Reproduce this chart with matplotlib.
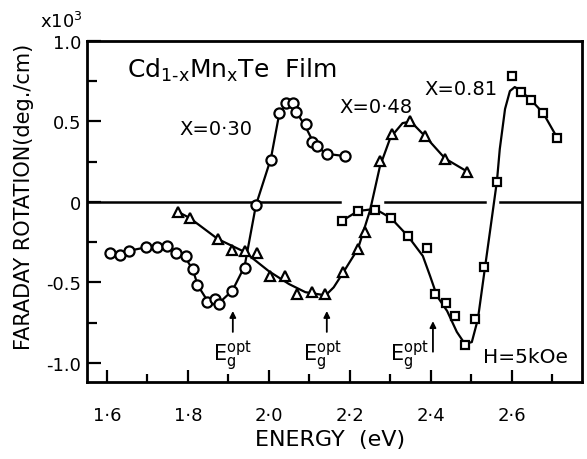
import matplotlib

matplotlib.use("Agg")

import matplotlib.pyplot as plt


# Energy (eV) and Faraday rotation (x10^3 deg/cm)

# X = 0.30, circles
circle_energy = [
    1.607, 1.632, 1.654, 1.696, 1.723, 1.748, 1.770, 1.795, 1.812, 1.822,
    1.847, 1.867, 1.877, 1.909, 1.941, 1.968, 2.005, 2.025, 2.042, 2.059,
    2.067, 2.091, 2.106, 2.119, 2.143, 2.188,
]
circle_rotation = [
    -0.317, -0.329, -0.304, -0.280, -0.280, -0.273, -0.317, -0.335, -0.416, -0.516,
    -0.621, -0.602, -0.634, -0.553, -0.410, -0.019, 0.261, 0.553, 0.615, 0.615,
    0.559, 0.484, 0.373, 0.348, 0.298, 0.286,
]
circle_curve_energy = [
    1.607, 1.632, 1.660, 1.700, 1.740, 1.770, 1.795, 1.812, 1.825, 1.845,
    1.865, 1.880, 1.910, 1.940, 1.968, 2.005, 2.025, 2.040, 2.050, 2.060,
    2.075, 2.090, 2.110, 2.140, 2.188,
]
circle_curve_rotation = [
    -0.32, -0.32, -0.30, -0.28, -0.28, -0.31, -0.35, -0.42, -0.52, -0.60,
    -0.63, -0.62, -0.55, -0.40, -0.02, 0.27, 0.54, 0.60, 0.615, 0.60,
    0.53, 0.47, 0.37, 0.30, 0.285,
]

# X = 0.48, triangles
triangle_energy = [
    1.775, 1.805, 1.874, 1.909, 1.941, 1.970, 2.002, 2.040, 2.069, 2.106,
    2.138, 2.183, 2.220, 2.237, 2.274, 2.304, 2.348, 2.385, 2.435, 2.489,
]
triangle_rotation = [
    -0.062, -0.099, -0.230, -0.298, -0.304, -0.317, -0.460, -0.460, -0.571, -0.559,
    -0.571, -0.435, -0.292, -0.186, 0.255, 0.422, 0.503, 0.410, 0.267, 0.186,
]
triangle_curve_energy = [
    1.775, 1.805, 1.874, 1.940, 2.000, 2.050, 2.090, 2.140, 2.160, 2.183,
    2.220, 2.250, 2.274, 2.300, 2.330, 2.350, 2.385, 2.435, 2.489,
]
triangle_curve_rotation = [
    -0.06, -0.10, -0.23, -0.31, -0.43, -0.51, -0.56, -0.58, -0.53, -0.44,
    -0.29, -0.05, 0.22, 0.40, 0.49, 0.50, 0.41, 0.27, 0.19,
]

# X = 0.81, squares
square_energy = [
    2.180, 2.220, 2.262, 2.301, 2.343, 2.390, 2.410, 2.437, 2.459, 2.484,
    2.509, 2.531, 2.563, 2.600, 2.622, 2.647, 2.677, 2.712,
]
square_rotation = [
    -0.118, -0.056, -0.050, -0.099, -0.211, -0.286, -0.571, -0.627, -0.708, -0.888,
    -0.727, -0.404, 0.124, 0.783, 0.683, 0.634, 0.553, 0.398,
]
square_curve_energy = [
    2.180, 2.220, 2.262, 2.301, 2.343, 2.380, 2.398, 2.415, 2.440, 2.464,
    2.484, 2.501, 2.516, 2.533, 2.546, 2.563, 2.570, 2.583, 2.595, 2.607,
    2.622, 2.647, 2.677, 2.712,
]
square_curve_rotation = [
    -0.118, -0.056, -0.043, -0.099, -0.211, -0.335, -0.460, -0.584, -0.677, -0.807,
    -0.882, -0.870, -0.727, -0.416, -0.180, 0.130, 0.329, 0.578, 0.689, 0.714,
    0.689, 0.634, 0.553, 0.398,
]

# optical gap markers
gap_energy = [1.911, 2.143, 2.405]

x_ticks = [1.6, 1.8, 2.0, 2.2, 2.4, 2.6]
x_tick_labels = ["1·6", "1·8", "2·0", "2·2", "2·4", "2·6"]
y_ticks = [-1.0, -0.5, 0.0, 0.5, 1.0]
y_tick_labels = ["-1.0", "-0.5", "0", "0.5", "1.0"]

# pieces of the broken zero line
zero_segments = [(1.54, 2.175), (2.286, 2.533), (2.570, 2.78)]


def draw_series(axis, energy, rotation, curve_energy, curve_rotation, marker, size):
    axis.plot(curve_energy, curve_rotation, color="black", linewidth=1.6, zorder=3)
    axis.plot(
        energy,
        rotation,
        linestyle="none",
        marker=marker,
        markersize=size,
        markerfacecolor="white",
        markeredgecolor="black",
        markeredgewidth=1.6,
        zorder=4,
    )


def main() -> None:
    plt.rcParams["font.family"] = ["DejaVu Sans"]
    plt.rcParams["mathtext.default"] = "regular"

    figure = plt.figure(figsize=(5.87, 4.60), dpi=100)
    axis = figure.add_axes([0.1482, 0.1674, 0.8433, 0.7413])

    for start, stop in zero_segments:
        axis.plot([start, stop], [0, 0], color="black", linewidth=1.8, zorder=2)

    draw_series(axis, circle_energy, circle_rotation,
                circle_curve_energy, circle_curve_rotation, "o", 7.3)
    draw_series(axis, triangle_energy, triangle_rotation,
                triangle_curve_energy, triangle_curve_rotation, "^", 7.8)
    draw_series(axis, square_energy, square_rotation,
                square_curve_energy, square_curve_rotation, "s", 6.3)

    # --------------------------------------------------
    # Labels inside the frame
    # --------------------------------------------------

    axis.text(1.649, 0.776, r"$Cd_{1\text{-}x}Mn_xTe$  Film", fontsize=18,
              va="baseline")
    axis.text(1.780, 0.422, "X=0·30", fontsize=14, va="baseline")
    axis.text(2.175, 0.559, "X=0·48", fontsize=14, va="baseline")
    axis.text(2.385, 0.671, "X=0.81", fontsize=14, va="baseline")
    axis.text(2.528, -0.994, "H=5kOe", fontsize=14.5, va="baseline")

    arrow_bottom = [-0.807, -0.807, -0.930]
    arrow_top = [-0.677, -0.677, -0.740]
    label_left = [1.862, 2.084, 2.299]
    for energy, low, high, left in zip(gap_energy, arrow_bottom, arrow_top, label_left):
        axis.annotate(
            "",
            xy=(energy, high),
            xytext=(energy, low),
            arrowprops=dict(arrowstyle="-|>", color="black", linewidth=1.3,
                            mutation_scale=9, shrinkA=0, shrinkB=0),
        )
        axis.text(left, -0.99, "$E_g^{opt}$", fontsize=15, va="baseline")

    figure.text(40 / 587, 1 - 28 / 460, "$x10^3$", fontsize=13, va="baseline")

    # --------------------------------------------------
    # Axes styling
    # --------------------------------------------------

    axis.set_xlim(1.551, 2.773)
    axis.set_ylim(-1.118, 1.0)

    axis.set_xticks(x_ticks)
    axis.set_xticklabels(x_tick_labels, fontsize=13)
    axis.set_xticks([1.7, 1.9, 2.1, 2.3, 2.5, 2.7], minor=True)
    axis.set_yticks(y_ticks)
    axis.set_yticklabels(y_tick_labels, fontsize=13)
    axis.set_yticks([-0.75, -0.25, 0.25, 0.75], minor=True)

    axis.tick_params(axis="x", which="major", direction="in", length=9,
                     width=1.6, pad=17)
    axis.tick_params(axis="x", which="minor", direction="in", length=6, width=1.6)
    axis.tick_params(axis="y", which="major", direction="in", length=10,
                     width=1.6, pad=4)
    axis.tick_params(axis="y", which="minor", direction="in", length=7, width=1.6)

    for spine in axis.spines.values():
        spine.set_linewidth(2.0)

    axis.set_xlabel("ENERGY  (eV)", fontsize=16)
    axis.xaxis.set_label_coords(0.491, -0.167)
    axis.xaxis.label.set_va("center")
    axis.set_ylabel("FARADAY ROTATION(deg./cm)", fontsize=15)
    axis.yaxis.set_label_coords(-0.127, 0.545)
    axis.yaxis.label.set_va("center")

    figure.savefig("out.png", dpi=100)
    plt.close(figure)


if __name__ == "__main__":
    main()
